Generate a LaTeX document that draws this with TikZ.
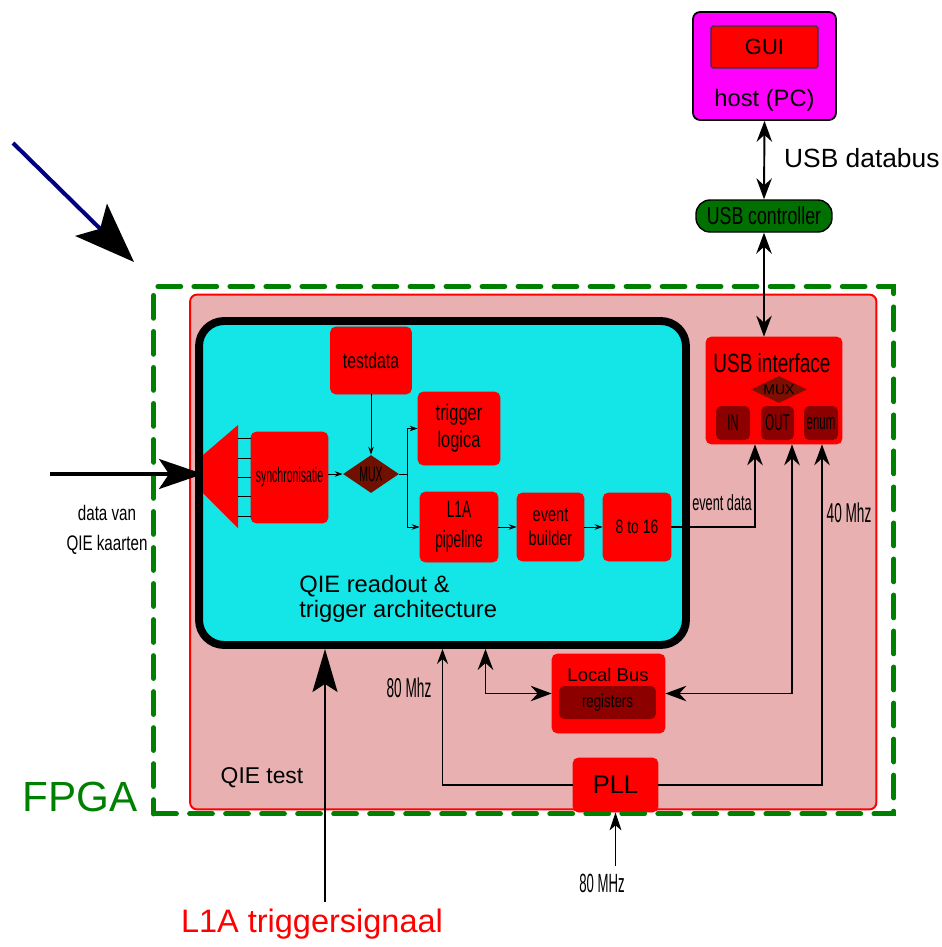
\documentclass[tikz,border=0pt]{standalone}
\usepackage{fontspec}
\setmainfont{Liberation Sans}
\setsansfont{Liberation Sans}
\newfontfamily\narrowsf[FakeStretch=0.72]{Liberation Sans}
\newfontfamily\slimsf[FakeStretch=0.58]{Liberation Sans}
\newfontfamily\thinsf[FakeStretch=0.5]{Liberation Sans}
\usepackage{tikz}
\usetikzlibrary{positioning,arrows.meta,shapes.geometric,calc}
\definecolor{hostmagenta}{RGB}{255,0,255}
\definecolor{qiecyan}{RGB}{20,230,232}
\definecolor{qiepink}{RGB}{232,176,176}
\definecolor{fpgagreen}{RGB}{0,128,0}
\definecolor{ctrlgreen}{RGB}{0,112,0}
\definecolor{regred}{RGB}{140,0,0}
\definecolor{muxbrown}{RGB}{112,16,0}
\definecolor{pointerblue}{RGB}{0,0,128}

\begin{document}
\begin{tikzpicture}[x=0.02cm, y=-0.02cm,
  every node/.style={font=\sffamily},
  >={Stealth[length=4.2mm,width=3.1mm,inset=1.4mm]},
  redbox/.style={fill=red, draw=red, rounded corners=3pt, inner sep=1pt, align=center},
  darkbox/.style={fill=regred, rounded corners=3pt, inner sep=0pt},
  muxdiamond/.style={diamond, inner sep=0pt, aspect=2},
  smallarr/.style={-{Stealth[length=1.6mm,width=1.1mm]}, line width=0.5pt},
  busline/.style={line width=1.1pt},
  clockline/.style={line width=0.7pt},
]
  \useasboundingbox (0,0) rectangle (941,947);

  % host PC and USB controller
  \node[fill=hostmagenta, draw=black, line width=1pt, rounded corners=4pt,
        minimum width=2.86cm, minimum height=2.16cm] (host) at (764.5,66) {};
  \node[fill=red, draw=black!80, line width=0.6pt, rounded corners=1pt,
        minimum width=2.14cm, minimum height=0.84cm,
        font=\sffamily\fontsize{12.5}{15}\selectfont] (gui) at (764.5,47) {GUI};
  \node[font=\sffamily\fontsize{13.5}{16}\selectfont] (hostlabel) at (764.5,100) {host (PC)};
  \node[fill=ctrlgreen, draw=black, line width=0.8pt, rounded corners=8pt,
        minimum width=2.72cm, minimum height=0.64cm, inner sep=0pt,
        font=\narrowsf\fontsize{14}{16}\selectfont] (usbctrl) at (764,216) {USB controller};
  \node[anchor=west, font=\sffamily\fontsize{15}{18}\selectfont] (usbbuslabel) at (778,158) {USB databus};

  % QIE test area
  \node[fill=qiepink, draw=red, line width=1.1pt, rounded corners=4pt,
        minimum width=13.73cm, minimum height=10.3cm] (qietest) at (533.25,552) {};
  \node[font=\sffamily\fontsize{13}{15}\selectfont] (qietestlabel) at (262,778) {QIE test};

  % readout & trigger block
  \node[fill=qiecyan, draw=black, line width=4.5pt, rounded corners=0.5cm,
        minimum width=9.74cm, minimum height=6.48cm] (qie) at (442.5,483) {};
  \node[anchor=west, inner sep=0pt, align=left,
        font=\sffamily\fontsize{13.5}{14.2}\selectfont] (qielabel) at (299,599)
    {QIE readout \&\\trigger architecture};

  \fill[red] (203,455) -- (238,425) -- (238,528) -- (203,493) -- cycle;
  \node[redbox, minimum width=1.54cm, minimum height=1.82cm,
        font=\thinsf\fontsize{12}{14}\selectfont] (sync) at (289.5,477.5) {synchronisatie};
  \node[redbox, minimum width=1.62cm, minimum height=1.34cm,
        font=\narrowsf\fontsize{12.5}{14}\selectfont] (testdata) at (371,360.5) {testdata};
  \node[muxdiamond, fill=muxbrown, minimum width=1.12cm, minimum height=0.76cm,
        font=\thinsf\fontsize{12}{14}\selectfont] (mux) at (371,474) {MUX};
  \node[redbox, minimum width=1.64cm, minimum height=1.46cm,
        font=\narrowsf\fontsize{13}{15.3}\selectfont] (trigger) at (459,428.5) {trigger\\logica};
  \node[redbox, minimum width=1.56cm, minimum height=1.4cm,
        font=\slimsf\fontsize{13.5}{17}\selectfont] (l1a) at (459,527) {L1A\\pipeline};
  \node[redbox, minimum width=1.34cm, minimum height=1.36cm,
        font=\narrowsf\fontsize{11.5}{13.6}\selectfont] (evb) at (550.5,527) {event\\builder};
  \node[redbox, minimum width=1.36cm, minimum height=1.36cm,
        font=\narrowsf\fontsize{11}{12}\selectfont] (eight) at (637,527) {8 to 16};

  % USB interface
  \node[redbox, minimum width=2.72cm, minimum height=2.14cm] (usbif) at (774,390.5) {};
  \node[font=\narrowsf\fontsize{15}{17}\selectfont] (usbiflabel) at (772,363) {USB interface};
  \node[muxdiamond, fill=muxbrown!90!red, minimum width=1.12cm, minimum height=0.54cm,
        font=\sffamily\fontsize{8}{9}\selectfont] (usbmux) at (779,389.5) {MUX};
  \node[darkbox, minimum width=0.68cm, minimum height=0.68cm,
        font=\thinsf\fontsize{13}{14}\selectfont] (in) at (733,423) {IN};
  \node[darkbox, minimum width=0.66cm, minimum height=0.68cm,
        font=\thinsf\fontsize{13}{14}\selectfont] (out) at (777.5,423) {OUT};
  \node[darkbox, minimum width=0.68cm, minimum height=0.68cm,
        font=\thinsf\fontsize{13}{14}\selectfont] (enum) at (821,423) {enum};

  % local bus and PLL
  \node[redbox, minimum width=2.26cm, minimum height=1.58cm] (localbus) at (608.5,693.5) {};
  \node[font=\sffamily\fontsize{10.5}{12}\selectfont] (localbuslabel) at (608,675) {Local Bus};
  \node[darkbox, minimum width=1.94cm, minimum height=0.66cm,
        font=\narrowsf\fontsize{10.5}{12}\selectfont] (registers) at (607.5,702.5) {registers};
  \node[redbox, minimum width=1.7cm, minimum height=1.08cm,
        font=\sffamily\fontsize{14.5}{16}\selectfont] (pll) at (615.5,785) {PLL};

  % FPGA border
  \node[draw=fpgagreen, line width=2.8pt, dash pattern=on 13pt off 7.5pt, line cap=round,
        minimum width=14.81cm, minimum height=10.55cm] (fpga) at (523.75,550.25) {};
  \node[text=fpgagreen, font=\sffamily\fontsize{24}{28}\selectfont] (fpgalabel) at (80,797) {FPGA};

  % labels
  \node[font=\thinsf\fontsize{15.5}{17}\selectfont] (clk80label) at (409,688) {80 Mhz};
  \node[font=\thinsf\fontsize{15.5}{17}\selectfont] (clk40label) at (849,513) {40 Mhz};
  \node[font=\slimsf\fontsize{12.5}{14}\selectfont] (eventdatalabel) at (722,503) {event data};
  \node[font=\thinsf\fontsize{15}{17}\selectfont] (clkinlabel) at (602,883) {80 MHz};
  \node[align=center, font=\narrowsf\fontsize{12}{17}\selectfont] (datalabel) at (107,530)
    {data van\\QIE kaarten};
  \node[text=red, font=\sffamily\fontsize{18.5}{22}\selectfont] (triglabel) at (312,924)
    {L1A triggersignaal};

  % free ends
  \coordinate (ptrstart) at (13,143);
  \coordinate (ptrtip) at (134,262);
  \coordinate (datain) at (50,474);
  \coordinate (funnelin) at (203,474);
  \coordinate (trigin) at (325,902);
  \coordinate (clkin) at (615.5,866);

  % connections
  \draw[line width=2.3pt, pointerblue,
        -{Stealth[length=12mm,width=9mm,inset=2.5mm,black]}] (ptrstart) -- (ptrtip);
  \draw[line width=1.9pt, -{Stealth[length=8.8mm,width=6mm,inset=2mm]}] (datain) -- (funnelin);
  \foreach \y in {438,458,477,496,516}
    \draw[line width=0.5pt] (238,\y) -- (sync.west |- 0,\y);
  \draw[smallarr] (sync.east |- mux.west) -- (mux.west);
  \draw[smallarr] (testdata.south) -- (mux.north);
  \draw[smallarr] (mux.east) -- ++(8,0) |- (trigger.west);
  \draw[smallarr] (mux.east) -- ++(8,0) |- (l1a.west);
  \draw[smallarr] (l1a.east) -- (evb.west);
  \draw[smallarr] (evb.east) -- (eight.west);
  \draw[busline, ->] (eight.east) -| ($(usbif.south)+(-19,0)$);
  \draw[busline, <->] (localbus.east) -| ($(usbif.south)+(18,0)$);
  \draw[clockline, ->] (pll.east) -| ($(usbif.south)+(48,0)$);
  \draw[clockline, -{Stealth[length=3mm,width=2.2mm,inset=1mm]}] (pll.west) -| (qie.south);
  \draw[busline, <->] ($(qie.south)+(43,0)$) |- (localbus.west);
  \draw[busline, <->] (host.south) -- (usbctrl.north);
  \draw[busline, <->] (usbctrl.south) -- (usbctrl.south |- usbif.north);
  \draw[line width=1.5pt, -{Stealth[length=8.6mm,width=5mm,inset=1.6mm]}]
    (trigin) -- ($(qie.south)+(-117.5,0)$);
  \draw[clockline, -{Stealth[length=3.6mm,width=2.4mm,inset=1mm]}] (clkin) -- (pll.south);
\end{tikzpicture}
\end{document}
